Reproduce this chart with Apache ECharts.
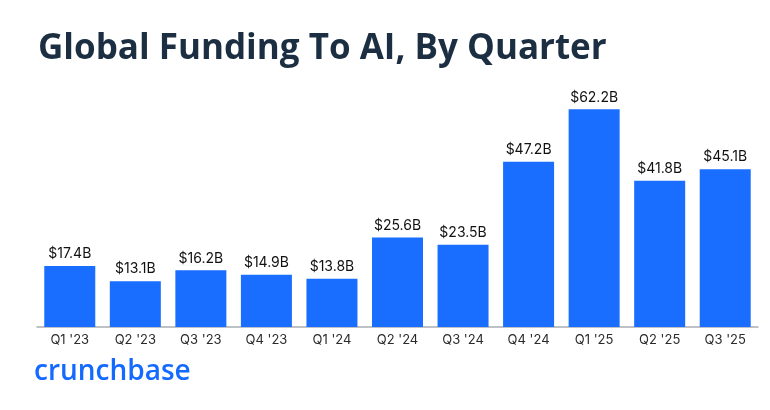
<!DOCTYPE html>
<html>
<head>
    <meta charset="utf-8"/>
    <title>Global Funding To AI, By Quarter</title>
    <script src="https://cdn.jsdelivr.net/npm/echarts@6/dist/echarts.min.js"></script>
    <style>
        html, body { margin: 0; padding: 0; background: #fff; }
        #main { width: 770px; height: 410px; }
    </style>
</head>
<body>
<div id="main"></div>
<script type="text/javascript">
    /* data */
    var quarters = ["Q1 '23", "Q2 '23", "Q3 '23", "Q4 '23", "Q1 '24", "Q2 '24",
        "Q3 '24", "Q4 '24", "Q1 '25", "Q2 '25", "Q3 '25"];
    var funding = [17.4, 13.1, 16.2, 14.9, 13.8, 25.6, 23.5, 47.2, 62.2, 41.8, 45.1];

    var chart = echarts.init(document.getElementById('main'));

    var option = {
        animation: false,
        title: {
            text: 'Global Funding To AI, By Quarter',
            left: 33,
            top: 27,
            textStyle: {
                fontFamily: 'Open Sans',
                fontWeight: 'bold',
                fontSize: 35,
                color: '#1b2e42'
            }
        },
        grid: {
            left: 37,
            right: 12,
            top: 82,
            bottom: 83
        },
        xAxis: {
            type: 'category',
            data: quarters,
            axisLine: {lineStyle: {color: '#a9adb3', width: 1.5}},
            axisTick: {show: false},
            axisLabel: {
                color: '#2b2b2b',
                fontFamily: 'Inter',
                fontSize: 13,
                margin: 7
            }
        },
        yAxis: {
            type: 'value',
            min: 0,
            max: 70,
            show: false,
            splitLine: {show: false}
        },
        series: [{
            type: 'bar',
            data: funding,
            barWidth: 51,
            itemStyle: {color: '#196dff'},
            label: {
                show: true,
                position: 'top',
                distance: 5,
                color: '#111',
                fontFamily: 'Inter',
                fontSize: 14,
                formatter: function (p) {
                    return '$' + p.value.toFixed(1) + 'B';
                }
            }
        }],
        graphic: [{
            type: 'text',
            left: 34,
            top: 358,
            style: {
                text: 'crunchbase',
                fontFamily: 'Open Sans',
                fontWeight: 600,
                fontSize: 28,
                fill: '#146aff'
            }
        }]
    };

    chart.setOption(option);
    window.onresize = chart.resize;
</script>
</body>
</html>
